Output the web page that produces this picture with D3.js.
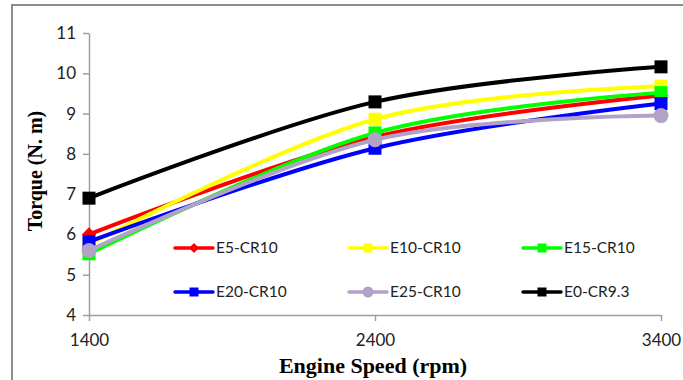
<!DOCTYPE html>
<html>
<head>
<meta charset="utf-8">
<script src="https://cdn.jsdelivr.net/npm/d3@7"></script>
<style>
  body { margin: 0; background: #fff; }
</style>
</head>
<body>
<div id="chart"></div>
<script>
// values
var speeds = [1400, 2400, 3400];
var seriesNames = ["E5-CR10", "E10-CR10", "E15-CR10", "E20-CR10", "E25-CR10", "E0-CR9.3"];
var e5  = [6.0, 8.42, 9.45];
var e10 = [5.75, 8.86, 9.68];
var e15 = [5.52, 8.52, 9.52];
var e20 = [5.82, 8.14, 9.25];
var e25 = [5.6, 8.35, 8.95];
var e0  = [6.9, 9.29, 10.16];
var yTicks = [4, 5, 6, 7, 8, 9, 10, 11];

var colors = ["#ff0000", "#ffff00", "#00ff00", "#0000ff", "#b3a2c7", "#000000"];
var shapes = ["diamond", "square", "square", "square", "circle", "square"];
var values = [e5, e10, e15, e20, e25, e0];

var W = 683, H = 380;

var svg = d3.select("#chart").append("svg")
    .attr("width", W)
    .attr("height", H);

// outer frame
svg.append("rect")
    .attr("x", 12).attr("y", 5)
    .attr("width", W + 10).attr("height", H + 10)
    .attr("fill", "none")
    .attr("stroke", "#8c8c8c")
    .attr("stroke-width", 2);

var x = d3.scaleLinear().domain([1400, 3400]).range([89, 661]);
var y = d3.scaleLinear().domain([4, 11]).range([315, 33]);

// Y axis
var gy = svg.append("g")
    .attr("transform", "translate(89,0)")
    .call(d3.axisLeft(y).tickValues(yTicks).tickSize(6).tickPadding(7).tickSizeOuter(0).tickFormat(d3.format("d")));

// X axis
var gx = svg.append("g")
    .attr("transform", "translate(0,315)")
    .call(d3.axisBottom(x).tickValues(speeds).tickSize(6).tickPadding(13).tickSizeOuter(0).tickFormat(d3.format("d")));

[gx, gy].forEach(function(g) {
  g.select(".domain").attr("stroke", "#a0a0a0").attr("stroke-width", 1.5);
  g.selectAll(".tick line").attr("stroke", "#a0a0a0").attr("stroke-width", 1.5);
  g.selectAll(".tick text")
    .attr("font-family", "Lato, sans-serif")
    .attr("font-size", "17px")
    .attr("fill", "#222");
});

// axis titles
svg.append("text")
    .attr("transform", "translate(42,171) rotate(-90)")
    .attr("text-anchor", "middle")
    .attr("font-family", "'Liberation Serif', serif")
    .attr("font-weight", "bold")
    .attr("font-size", "20px")
    .text("Torque (N. m)");

svg.append("text")
    .attr("x", 373)
    .attr("y", 373)
    .attr("text-anchor", "middle")
    .attr("font-family", "'Liberation Serif', serif")
    .attr("font-weight", "bold")
    .attr("font-size", "22px")
    .text("Engine Speed (rpm)");

function drawMarker(g, shape, cx, cy, size, color) {
  if (shape === "square") {
    g.append("rect")
      .attr("x", cx - size / 2).attr("y", cy - size / 2)
      .attr("width", size).attr("height", size)
      .attr("fill", color);
  } else if (shape === "circle") {
    g.append("circle")
      .attr("cx", cx).attr("cy", cy)
      .attr("r", size / 2 + 1)
      .attr("fill", color);
  } else {
    var s = size * 0.55;
    g.append("path")
      .attr("d", "M" + cx + "," + (cy - s) + "L" + (cx + s) + "," + cy + "L" + cx + "," + (cy + s) + "L" + (cx - s) + "," + cy + "Z")
      .attr("fill", color);
  }
}

// legend (drawn first so lines sit above it)
var legendCols = [175, 349, 523];
var legendRows = [248, 292];
var legend = svg.append("g");
seriesNames.forEach(function(name, i) {
  var lx = legendCols[i % 3], ly = legendRows[Math.floor(i / 3)];
  legend.append("line")
    .attr("x1", lx).attr("x2", lx + 38)
    .attr("y1", ly).attr("y2", ly)
    .attr("stroke", colors[i])
    .attr("stroke-width", 3.5)
    .attr("stroke-linecap", "round");
  drawMarker(legend, shapes[i], lx + 19, ly, 9, colors[i]);
  legend.append("text")
    .attr("x", lx + 41)
    .attr("y", ly)
    .attr("dy", "0.35em")
    .attr("font-family", "Lato, sans-serif")
    .attr("font-size", "15.5px")
    .attr("fill", "#222")
    .text(name);
});

// series
var line = d3.line()
    .x(function(d) { return x(d.s); })
    .y(function(d) { return y(d.v); })
    .curve(d3.curveCardinal.tension(0));

values.forEach(function(vals, i) {
  var pts = speeds.map(function(s, j) { return {s: s, v: vals[j]}; });
  var g = svg.append("g");
  g.append("path")
    .datum(pts)
    .attr("d", line)
    .attr("fill", "none")
    .attr("stroke", colors[i])
    .attr("stroke-width", 4);
  pts.forEach(function(p) {
    drawMarker(g, shapes[i], x(p.s), y(p.v), 13, colors[i]);
  });
});
</script>
</body>
</html>
